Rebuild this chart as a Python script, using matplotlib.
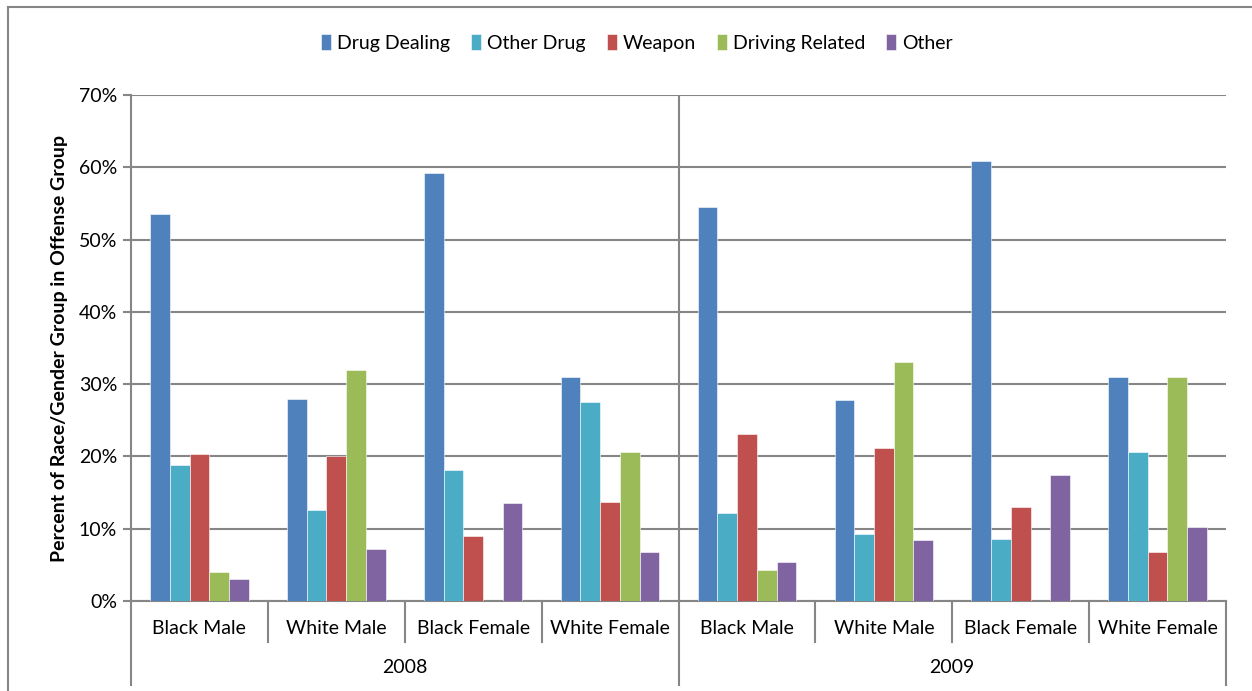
import matplotlib.pyplot as plt
import matplotlib.lines as mlines
import numpy as np

years = ["2008", "2009"]
groups = ["Black Male", "White Male", "Black Female", "White Female"]
offenses = ["Drug Dealing", "Other Drug", "Weapon", "Driving Related", "Other"]

# percent values, order: 2008 (BM, WM, BF, WF), 2009 (BM, WM, BF, WF)
drug_dealing = [53.5, 27.9, 59.2, 31.0, 54.5, 27.8, 60.9, 31.0]
other_drug = [18.8, 12.6, 18.1, 27.5, 12.2, 9.2, 8.6, 20.6]
weapon = [20.3, 20.0, 9.0, 13.7, 23.1, 21.1, 13.0, 6.8]
driving = [4.0, 32.0, 0.0, 20.6, 4.3, 33.1, 0.0, 31.0]
other = [3.0, 7.2, 13.6, 6.8, 5.4, 8.5, 17.4, 10.2]

colors = ["#4F81BD", "#4BACC6", "#C0504D", "#9BBB59", "#8064A2"]
series = [drug_dealing, other_drug, weapon, driving, other]

plt.rcParams["font.family"] = ["Lato", "DejaVu Sans"]
gray = "#868686"
fs = 14

fig = plt.figure(figsize=(12.52, 6.91), dpi=100)
ax = fig.add_axes([131/1252, 1-601/691, (1226-131)/1252, (601-95)/691])

n = len(groups) * len(years)
x = np.arange(n)
w = 0.144
for i, (vals, c) in enumerate(zip(series, colors)):
    ax.bar(x + (i - 2) * w, vals, width=w, color=c, label=offenses[i],
           edgecolor="white", linewidth=0.4, zorder=3)

ax.set_xlim(-0.5, n - 0.5)
ax.set_ylim(0, 70)
ax.set_yticks(range(0, 71, 10))
ax.set_yticklabels([f"{v}%" for v in range(0, 71, 10)], fontsize=fs)
ax.yaxis.grid(True, color=gray, linewidth=1.5, zorder=0)
ax.tick_params(axis="y", length=6, color=gray, width=1.5, pad=4)
ax.set_xticks([])
for s in ["top", "right"]:
    ax.spines[s].set_visible(False)
ax.spines["left"].set_color(gray)
ax.spines["left"].set_linewidth(1.5)
ax.spines["bottom"].set_color(gray)
ax.spines["bottom"].set_linewidth(1.5)

ax.set_ylabel("Percent of Race/Gender Group in Offense Group", fontsize=fs,
              fontweight="bold", labelpad=8)

trans = ax.get_xaxis_transform()
# year divider inside plot
ax.plot([3.5, 3.5], [0, 1], color=gray, linewidth=1.5, transform=trans, zorder=4)
# separators below axis
for k in range(n + 1):
    pos = k - 0.5
    low = -0.166 if k % 4 == 0 else -0.081
    ax.plot([pos, pos], [0, low], color=gray, linewidth=1.5, transform=trans,
            clip_on=False)
for k in range(n):
    ax.text(k, -0.054, groups[k % 4], transform=trans, ha="center", va="center",
            fontsize=fs)
for j, yr in enumerate(years):
    ax.text(j * 4 + 1.5, -0.131, yr, transform=trans, ha="center", va="center",
            fontsize=fs)

fig.legend(loc="center", bbox_to_anchor=(637/1252, 1-43/691), ncol=5,
           frameon=False, fontsize=fs, handlelength=0.5, handleheight=0.9,
           handletextpad=0.3, columnspacing=1.1)

# outer chart frame
fig.add_artist(mlines.Line2D([8/1252, 8/1252], [0, 1-7/691], color=gray, linewidth=1.5))
fig.add_artist(mlines.Line2D([8/1252, 1], [1-7/691, 1-7/691], color=gray, linewidth=1.5))

fig.savefig("out.png", dpi=100)
